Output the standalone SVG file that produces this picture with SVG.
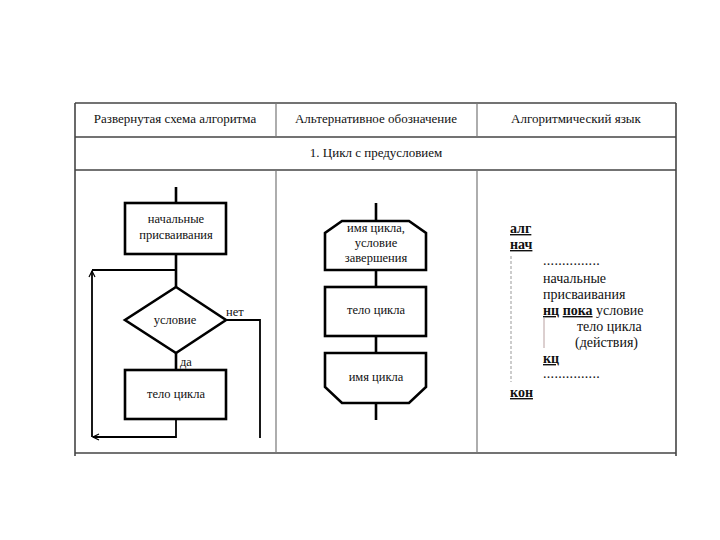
<svg xmlns="http://www.w3.org/2000/svg" width="720" height="540" viewBox="0 0 720 540">
<style>
.tbl{stroke:#444;stroke-width:1.6;fill:none}
.sep{stroke:#777;stroke-width:1.2;fill:none}
.shape{fill:#fff;stroke:#000;stroke-width:2.6}
.ln{fill:none;stroke:#000;stroke-width:2.6}
.thin{fill:none;stroke:#000;stroke-width:1.8}
text{font-family:'Liberation Serif','DejaVu Serif','Times New Roman',serif;font-size:13px;fill:#111}
.s{font-size:12.5px}
.k{font-size:14px}
.c{text-anchor:middle}
.b{font-weight:bold;text-decoration:underline}
.dash{stroke:#999;stroke-width:1;stroke-dasharray:3 2;fill:none}
</style>
<defs>
<marker id="ah" markerWidth="8" markerHeight="8" refX="7" refY="4" orient="auto" markerUnits="userSpaceOnUse">
<path d="M1,1 L7,4 L1,7" fill="none" stroke="#000" stroke-width="1.2"/>
</marker>
</defs>
<rect width="720" height="540" fill="#fff"/>
<g id="table">
<line class="tbl" x1="75" y1="103" x2="676" y2="103"/>
<line class="tbl" x1="75" y1="137" x2="676" y2="137"/>
<line class="tbl" x1="75" y1="170" x2="676" y2="170"/>
<line class="tbl" x1="75" y1="453" x2="676" y2="453"/>
<line class="tbl" x1="75" y1="103" x2="75" y2="456"/>
<line class="tbl" x1="676" y1="103" x2="676" y2="456"/>
<line class="sep" x1="276" y1="103" x2="276" y2="137"/>
<line class="sep" x1="477" y1="103" x2="477" y2="137"/>
<line class="sep" x1="276" y1="170" x2="276" y2="453"/>
<line class="sep" x1="477" y1="170" x2="477" y2="453"/>
<text class="c" x="175" y="123">Развернутая схема алгоритма</text>
<text class="c" x="376" y="123">Альтернативное обозначение</text>
<text class="c" x="576" y="123">Алгоритмический язык</text>
<text class="c" x="376" y="157">1. Цикл с предусловием</text>
</g>
<g id="connectors">
<line class="ln" x1="176" y1="187" x2="176" y2="203"/>
<line class="ln" x1="176" y1="254" x2="176" y2="287"/>
<line class="thin" x1="176" y1="270" x2="92" y2="270"/>
<line class="thin" x1="92" y1="437" x2="92" y2="271" marker-end="url(#ah)"/>
<line class="ln" x1="176" y1="353" x2="176" y2="370"/>
<polyline class="thin" points="226,320 260,320 260,438"/>
<polyline class="thin" points="176,419 176,437 93,437" marker-end="url(#ah)"/>
<line class="ln" x1="376" y1="203" x2="376" y2="221"/>
<line class="ln" x1="376" y1="270" x2="376" y2="287"/>
<line class="ln" x1="376" y1="336" x2="376" y2="353"/>
<line class="ln" x1="376" y1="403" x2="376" y2="420"/>
</g>
<g id="init">
<rect class="shape" x="125" y="203" width="101" height="51"/>
<text class="c s" x="176" y="223">начальные</text>
<text class="c s" x="176" y="239">присваивания</text>
</g>
<g id="cond">
<polygon class="shape" points="176,287 226,320 176,353 125,320"/>
<text class="c s" x="175" y="324">условие</text>
<text class="s" x="226" y="316">нет</text>
<text class="s" x="180" y="366">да</text>
</g>
<g id="body1">
<rect class="shape" x="125" y="370" width="101" height="49"/>
<text class="c s" x="176" y="398">тело цикла</text>
</g>
<g id="loopstart">
<polygon class="shape" points="342,221 409,221 426,233 426,270 325,270 325,233"/>
<text class="c s" x="376" y="232">имя цикла,</text>
<text class="c s" x="376" y="247">условие</text>
<text class="c s" x="376" y="262">завершения</text>
</g>
<g id="body2">
<rect class="shape" x="325" y="287" width="101" height="49"/>
<text class="c s" x="376" y="314">тело цикла</text>
</g>
<g id="loopend">
<polygon class="shape" points="325,353 426,353 426,387 409,403 342,403 325,387"/>
<text class="c s" x="376" y="381">имя цикла</text>
</g>
<g id="code">
<line class="dash" x1="511" y1="256" x2="511" y2="382"/>
<line x1="544" y1="318" x2="544" y2="348" stroke="#b9a0a0" stroke-width="1"/>
<text class="k b" x="510" y="233">алг</text>
<text class="k b" x="510" y="249">нач</text>
<text class="k" x="543" y="265" letter-spacing="0.3">...............</text>
<text class="k" x="543" y="283">начальные</text>
<text class="k" x="543" y="299">присваивания</text>
<text class="k" x="543" y="315"><tspan class="b">нц</tspan> <tspan class="b">пока</tspan> условие</text>
<text class="k" x="577" y="331">тело цикла</text>
<text class="k" x="575" y="347">(действия)</text>
<text class="k b" x="543" y="363">кц</text>
<text class="k" x="543" y="378" letter-spacing="0.3">...............</text>
<text class="k b" x="510" y="397">кон</text>
</g>
</svg>
